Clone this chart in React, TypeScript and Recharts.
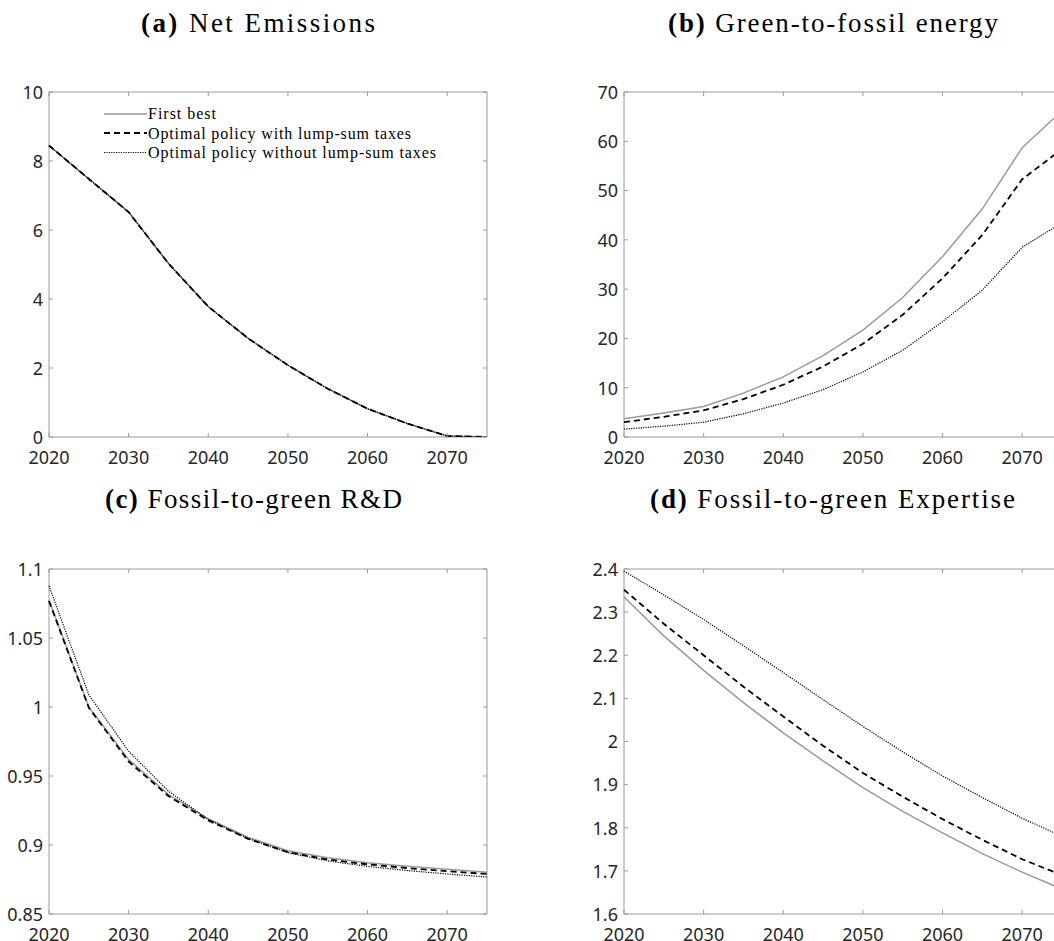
import React from 'react';
import { LineChart, Line, XAxis, YAxis, ReferenceArea } from 'recharts';

// years on the horizontal axis (5-year steps)
const years = [2020, 2025, 2030, 2035, 2040, 2045, 2050, 2055, 2060, 2065, 2070, 2075];
const xTicks = [2020, 2030, 2040, 2050, 2060, 2070];

// (a) Net Emissions
const emissionsFirstBest = [8.45, 7.48, 6.52, 5.03, 3.78, 2.86, 2.08, 1.4, 0.82, 0.39, 0.03, 0.0];
const emissionsLumpSum = [8.45, 7.48, 6.52, 5.03, 3.78, 2.86, 2.08, 1.4, 0.82, 0.39, 0.03, 0.0];
const emissionsNoLumpSum = [8.45, 7.48, 6.52, 5.03, 3.78, 2.86, 2.08, 1.4, 0.82, 0.39, 0.03, 0.0];
const emissionsTicks = [0, 2, 4, 6, 8, 10];

// (b) Green-to-fossil energy
const energyFirstBest = [3.7, 4.86, 6.2, 8.9, 12.2, 16.5, 21.7, 28.3, 36.6, 46.3, 58.7, 66.2];
const energyLumpSum = [3.0, 4.1, 5.4, 7.7, 10.6, 14.3, 18.9, 24.8, 32.2, 41.0, 52.3, 58.4];
const energyNoLumpSum = [1.6, 2.2, 3.0, 4.7, 6.9, 9.6, 13.2, 17.6, 23.4, 29.8, 38.5, 43.5];
const energyTicks = [0, 10, 20, 30, 40, 50, 60, 70];

// (c) Fossil-to-green R&D
const rdFirstBest = [1.0776, 1.0, 0.962, 0.9365, 0.919, 0.9055, 0.8958, 0.8908, 0.8872, 0.8846, 0.8825, 0.8803];
const rdLumpSum = [1.0768, 0.9995, 0.9605, 0.9355, 0.9178, 0.9045, 0.8948, 0.8895, 0.886, 0.8833, 0.881, 0.879];
const rdNoLumpSum = [1.0878, 1.0088, 0.968, 0.939, 0.9185, 0.9048, 0.8945, 0.8885, 0.8845, 0.8815, 0.879, 0.8768];
const rdTicks = [0.85, 0.9, 0.95, 1, 1.05, 1.1];

// (d) Fossil-to-green Expertise
const expFirstBest = [2.335, 2.245, 2.165, 2.09, 2.02, 1.955, 1.893, 1.838, 1.788, 1.74, 1.697, 1.658];
const expLumpSum = [2.352, 2.273, 2.2, 2.127, 2.058, 1.99, 1.927, 1.872, 1.82, 1.772, 1.727, 1.69];
const expNoLumpSum = [2.395, 2.34, 2.283, 2.222, 2.16, 2.097, 2.035, 1.976, 1.92, 1.87, 1.822, 1.78];
const expTicks = [1.6, 1.7, 1.8, 1.9, 2, 2.1, 2.2, 2.3, 2.4];

const AXIS = '#9a9a9a';
const TEXT = '#262626';
const SANS = '"Noto Sans", "Open Sans", sans-serif';
const SERIF = '"Liberation Serif", "DejaVu Serif", serif';
const TICK_FONT = 18;
const TICK_LEN = 4;
const X_GAP = 14; // distance from the bottom axis to the top of the year labels
const Y_GAP = 6;

const PLOT_W = 438;
const PLOT_H = 345;
const PAD_L = 60;
const PAD_T = 10;
const PAD_R = 10;
const PAD_B = 40;

const rowsOf = (a: number[], b: number[], c: number[]) =>
  years.map((year, i) => ({ year, first: a[i], lump: b[i], nolump: c[i] }));

const fmt = (v: number) => String(Number(Number(v).toFixed(2)));

// tick marks point inwards on every side of the box, like the reference
const BottomTick = (p: any) => (
  <g>
    <line x1={p.x} x2={p.x} y1={p.y - X_GAP} y2={p.y - X_GAP - TICK_LEN} stroke={AXIS} />
    <text x={p.x} y={p.y} dy="0.72em" textAnchor="middle" fill={TEXT} fontSize={TICK_FONT} fontFamily={SANS}>
      {p.payload.value}
    </text>
  </g>
);
const LeftTick = (p: any) => (
  <g>
    <line x1={p.x + Y_GAP} x2={p.x + Y_GAP + TICK_LEN} y1={p.y} y2={p.y} stroke={AXIS} />
    <text x={p.x} y={p.y} dy="0.38em" textAnchor="end" fill={TEXT} fontSize={TICK_FONT} fontFamily={SANS}>
      {fmt(p.payload.value)}
    </text>
  </g>
);
const TopTick = (p: any) => <line x1={p.x} x2={p.x} y1={p.y} y2={p.y + TICK_LEN} stroke={AXIS} />;
const RightTick = (p: any) => <line x1={p.x} x2={p.x - TICK_LEN} y1={p.y} y2={p.y} stroke={AXIS} />;

interface PanelProps {
  left: number;
  top: number;
  rows: { year: number; first: number; lump: number; nolump: number }[];
  yTicks: number[];
}

const Panel: React.FC<PanelProps> = ({ left, top, rows, yTicks }) => {
  const lo = yTicks[0];
  const hi = yTicks[yTicks.length - 1];
  return (
    <div style={{ position: 'absolute', left: left - PAD_L, top: top - PAD_T }}>
      <LineChart
        width={PLOT_W + PAD_L + PAD_R}
        height={PLOT_H + PAD_T + PAD_B}
        data={rows}
        margin={{ top: PAD_T - 1, right: PAD_R - 1, bottom: 0, left: 0 }}
      >
        <XAxis
          xAxisId="b"
          dataKey="year"
          type="number"
          domain={[2020, 2075]}
          ticks={xTicks}
          interval={0}
          height={PAD_B}
          axisLine={false}
          tickLine={false}
          tickSize={0}
          tickMargin={X_GAP}
          tick={BottomTick}
        />
        <XAxis
          xAxisId="t"
          orientation="top"
          dataKey="year"
          type="number"
          domain={[2020, 2075]}
          ticks={xTicks}
          interval={0}
          height={1}
          axisLine={false}
          tickLine={false}
          tickSize={0}
          tickMargin={0}
          tick={TopTick}
        />
        <YAxis
          yAxisId="l"
          type="number"
          domain={[lo, hi]}
          ticks={yTicks}
          interval={0}
          width={PAD_L}
          axisLine={false}
          tickLine={false}
          tickSize={0}
          tickMargin={Y_GAP}
          allowDataOverflow
          tick={LeftTick}
        />
        <YAxis
          yAxisId="r"
          orientation="right"
          dataKey="first"
          type="number"
          domain={[lo, hi]}
          ticks={yTicks}
          interval={0}
          width={1}
          axisLine={false}
          tickLine={false}
          tickSize={0}
          tickMargin={0}
          allowDataOverflow
          tick={RightTick}
        />
        <ReferenceArea
          xAxisId="b"
          yAxisId="l"
          x1={2020}
          x2={2075}
          y1={lo}
          y2={hi}
          fill="none"
          fillOpacity={0}
          stroke={AXIS}
          strokeWidth={1}
          ifOverflow="visible"
        />
        <Line xAxisId="b" yAxisId="l" dataKey="first" stroke="#9a9a9a" strokeWidth={1.5} dot={false} isAnimationActive={false} />
        <Line xAxisId="b" yAxisId="l" dataKey="lump" stroke="#000" strokeWidth={1.8} strokeDasharray="6 4" dot={false} isAnimationActive={false} />
        <Line xAxisId="b" yAxisId="l" dataKey="nolump" stroke="#000" strokeWidth={1.2} strokeDasharray="1.2 1.2" dot={false} isAnimationActive={false} />
      </LineChart>
    </div>
  );
};

const Title: React.FC<{ x: number; y: number; tag: string; label: string; len: number }> = ({ x, y, tag, label, len }) => (
  <text x={x} y={y} textAnchor="middle" fontFamily={SERIF} fontSize={27} fill="#000" textLength={len} lengthAdjust="spacing">
    <tspan fontWeight="bold">{tag}</tspan> {label}
  </text>
);

export default function App() {
  return (
    <div style={{ position: 'absolute', left: 0, top: 0, width: 1054, height: 941, overflow: 'hidden', background: '#fff' }}>
      <Panel left={49} top={92} rows={rowsOf(emissionsFirstBest, emissionsLumpSum, emissionsNoLumpSum)} yTicks={emissionsTicks} />
      <Panel left={623.5} top={92} rows={rowsOf(energyFirstBest, energyLumpSum, energyNoLumpSum)} yTicks={energyTicks} />
      <Panel left={49} top={569} rows={rowsOf(rdFirstBest, rdLumpSum, rdNoLumpSum)} yTicks={rdTicks} />
      <Panel left={624} top={569} rows={rowsOf(expFirstBest, expLumpSum, expNoLumpSum)} yTicks={expTicks} />
      <svg width={1054} height={941} style={{ position: 'absolute', left: 0, top: 0, pointerEvents: 'none' }}>
        <Title x={258} y={32} tag="(a)" label="Net Emissions" len={234} />
        <Title x={833} y={32} tag="(b)" label="Green-to-fossil energy" len={330} />
        <Title x={253.5} y={508} tag="(c)" label="Fossil-to-green R&D" len={297} />
        <Title x={832.5} y={508} tag="(d)" label="Fossil-to-green Expertise" len={365} />
        <g fontFamily={SERIF} fontSize={16} fill="#000">
          <line x1={104} x2={147} y1={114} y2={114} stroke="#9a9a9a" strokeWidth={1.5} />
          <text x={148} y={119} textLength={68} lengthAdjust="spacing">First best</text>
          <line x1={104} x2={147} y1={133} y2={133} stroke="#000" strokeWidth={1.8} strokeDasharray="6 4" />
          <text x={148} y={138.5} textLength={263} lengthAdjust="spacing">Optimal policy with lump-sum taxes</text>
          <line x1={104} x2={147} y1={152.5} y2={152.5} stroke="#000" strokeWidth={1.2} strokeDasharray="1.2 1.2" />
          <text x={148} y={158} textLength={288} lengthAdjust="spacing">Optimal policy without lump-sum taxes</text>
        </g>
      </svg>
    </div>
  );
}
